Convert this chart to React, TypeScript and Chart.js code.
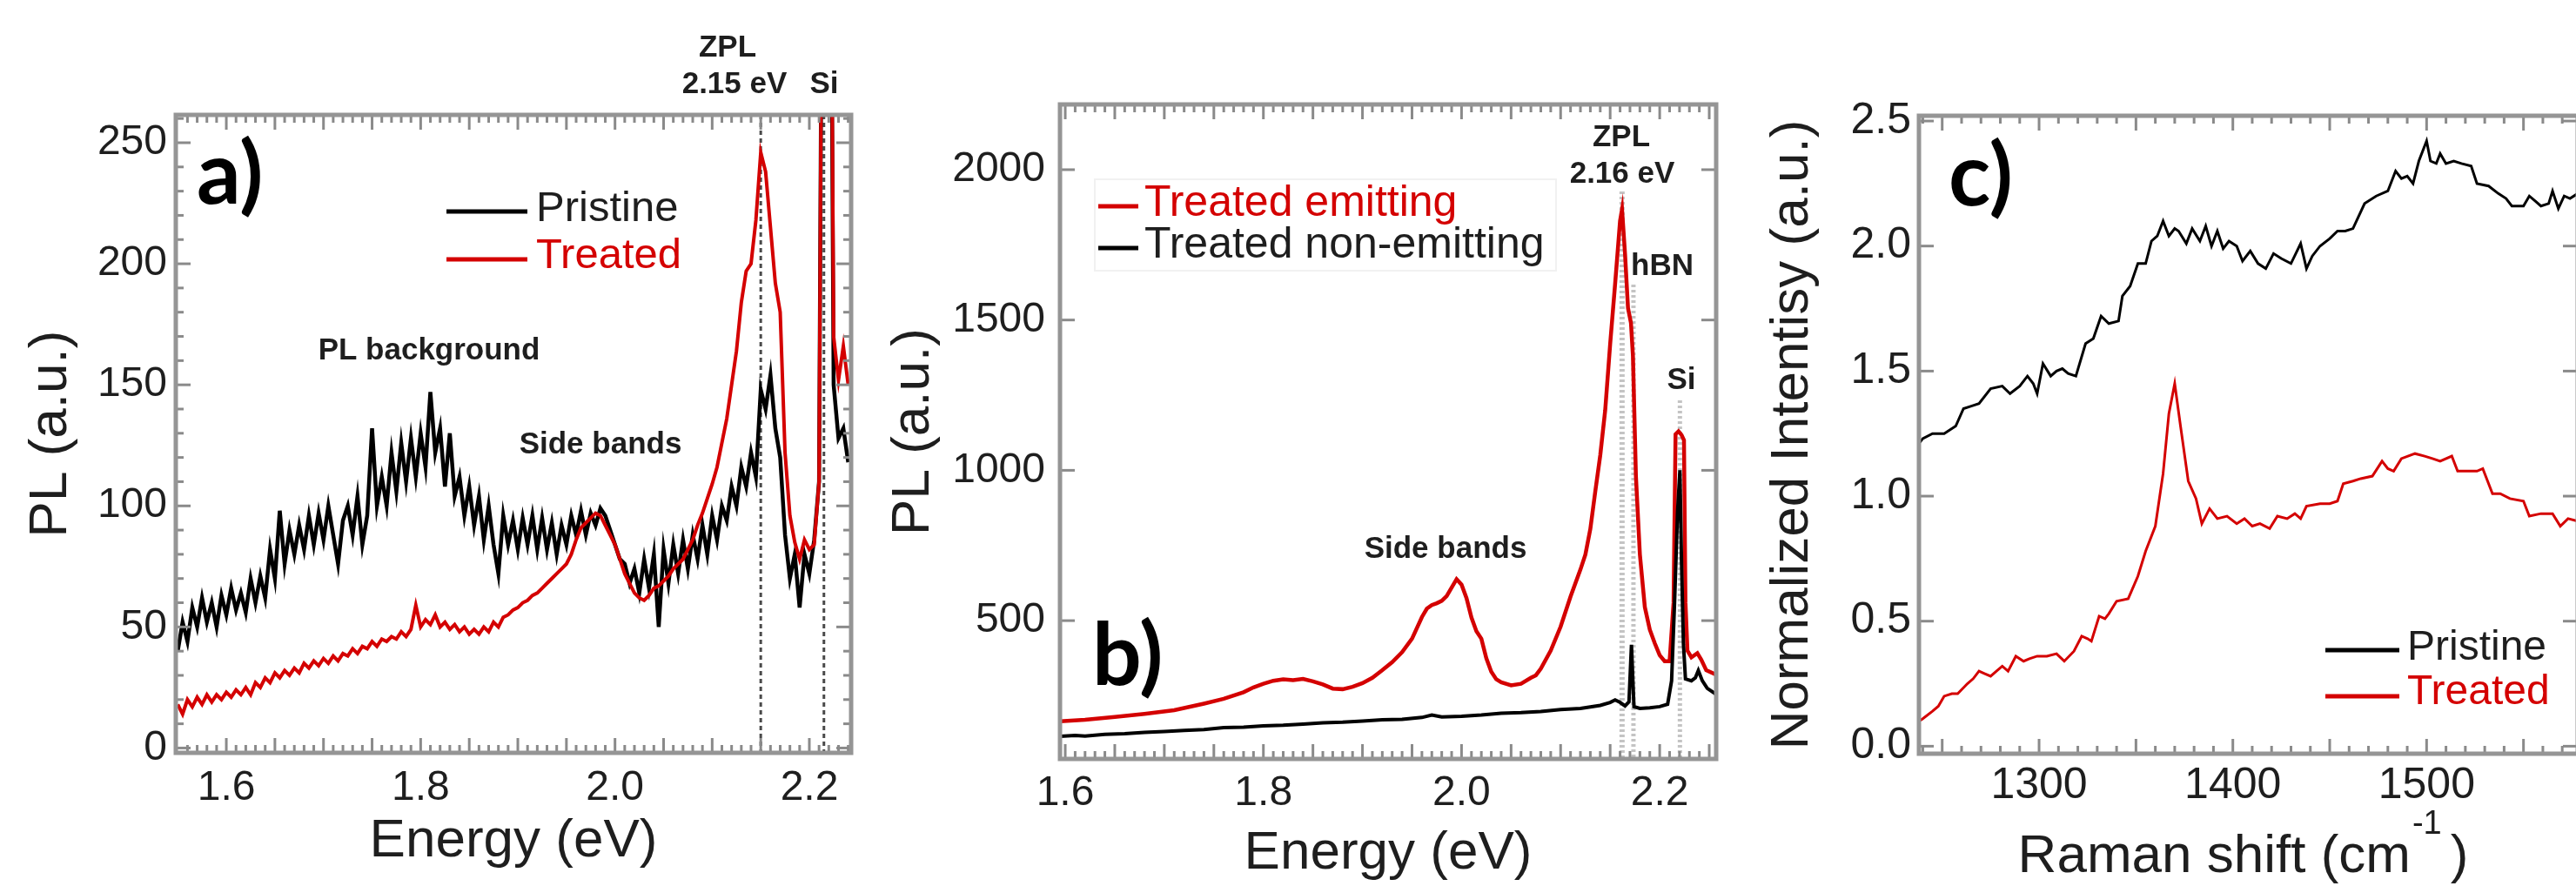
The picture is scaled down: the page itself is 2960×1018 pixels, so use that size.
import React, { useEffect, useRef } from 'react';
import { Chart, registerables } from 'chart.js';

Chart.register(...registerables);

const FONT = '"Liberation Sans", Arial, Helvetica, sans-serif';
const RED = '#d40000';
const INK = '#1e1e1e';

// ---------------- Panel a: PL, pristine vs treated ----------------
const aEnergy = [
  1.550, 1.555, 1.560, 1.565, 1.570, 1.575, 1.580, 1.585, 1.590, 1.595,
  1.600, 1.605, 1.610, 1.615, 1.620, 1.625, 1.630, 1.635, 1.640, 1.645,
  1.650, 1.655, 1.660, 1.665, 1.670, 1.675, 1.680, 1.685, 1.690, 1.695,
  1.700, 1.705, 1.710, 1.715, 1.720, 1.725, 1.730, 1.735, 1.740, 1.745,
  1.750, 1.755, 1.760, 1.765, 1.770, 1.775, 1.780, 1.785, 1.790, 1.795,
  1.800, 1.805, 1.810, 1.815, 1.820, 1.825, 1.830, 1.835, 1.840, 1.845,
  1.850, 1.855, 1.860, 1.865, 1.870, 1.875, 1.880, 1.885, 1.890, 1.895,
  1.900, 1.905, 1.910, 1.915, 1.920, 1.925, 1.930, 1.935, 1.940, 1.945,
  1.950, 1.955, 1.960, 1.965, 1.970, 1.975, 1.980, 1.985, 1.990, 1.995,
  2.000, 2.005, 2.010, 2.015, 2.020, 2.025, 2.030, 2.035, 2.040, 2.045,
  2.050, 2.055, 2.060, 2.065, 2.070, 2.075, 2.080, 2.085, 2.090, 2.095,
  2.100, 2.105, 2.110, 2.115, 2.120, 2.125, 2.130, 2.135, 2.140, 2.145,
  2.150, 2.155, 2.160, 2.165, 2.170, 2.175, 2.180, 2.185, 2.190, 2.195,
  2.200, 2.205, 2.210, 2.215, 2.220, 2.225, 2.230, 2.235, 2.240,
];
const aPristine = [
  40, 52, 44, 58, 50, 62, 52, 60, 50, 63,
  55, 66, 57, 64, 56, 70, 60, 71, 62, 82,
  70, 98, 76, 90, 80, 92, 82, 96, 84, 97,
  86, 100, 88, 76, 94, 100, 88, 104, 84, 96,
  132, 100, 112, 100, 122, 106, 126, 110, 128, 112,
  130, 116, 147, 122, 132, 108, 130, 104, 112, 96,
  108, 92, 104, 86, 100, 84, 72, 96, 84, 94,
  82, 95, 84, 96, 82, 95, 82, 93, 80, 92,
  84, 96, 88, 98, 88, 97, 92, 99, 96, 90,
  84, 78, 76, 68, 74, 64, 78, 66, 80, 50,
  82, 68, 84, 72, 86, 74, 88, 78, 92, 80,
  96, 86, 100, 94, 108, 100, 116, 108, 122, 112,
  148, 140, 154, 132, 120, 88, 70, 80, 58, 80,
  72, 86, 110, 500, 500, 150, 128, 132, 118,
];
const aTreated = [
  18, 14, 20, 17, 21, 18, 22, 19, 22, 20,
  23, 21, 24, 22, 25, 22, 27, 25, 29, 27,
  31, 29, 32, 30, 33, 31, 35, 33, 36, 34,
  37, 35, 38, 36, 39, 38, 41, 39, 42, 41,
  44, 42, 45, 44, 46, 45, 48, 46, 49, 59,
  50, 53, 51, 55, 50, 52, 49, 51, 48, 50,
  47, 49, 47, 50, 48, 52, 50, 54, 55, 57,
  58, 60, 61, 63, 64, 66, 68, 70, 72, 74,
  76, 80, 86, 91, 93, 95, 97, 96, 92, 88,
  84, 78, 72, 68, 64, 62, 61, 63, 66, 67,
  69, 71, 74, 76, 78, 82, 86, 92, 97, 103,
  109, 116, 126, 136, 150, 164, 184, 197, 200, 218,
  246, 238, 215, 192, 180, 122, 96, 85, 78, 86,
  82, 84, 110, 500, 500, 170, 152, 166, 150,
];
const aXTicks = [1.6, 1.8, 2.0, 2.2];
const aYTicks = [0, 50, 100, 150, 200, 250];

// ---------------- Panel b: treated emitting vs non-emitting ----------------
const bEmitEnergy = [
  1.595, 1.62, 1.65, 1.68, 1.71, 1.74, 1.76, 1.78, 1.79, 1.80,
  1.81, 1.82, 1.83, 1.84, 1.85, 1.86, 1.87, 1.88, 1.89, 1.90,
  1.91, 1.92, 1.93, 1.94, 1.95, 1.96, 1.965, 1.97, 1.975, 1.98,
  1.985, 1.99, 1.995, 2.00, 2.005, 2.01, 2.015, 2.02, 2.025, 2.03,
  2.035, 2.04, 2.05, 2.06, 2.07, 2.075, 2.08, 2.09, 2.10, 2.11,
  2.12, 2.125, 2.13, 2.135, 2.14, 2.145, 2.15, 2.155, 2.16, 2.162,
  2.165, 2.168, 2.171, 2.173, 2.176, 2.18, 2.185, 2.19, 2.195, 2.20,
  2.205, 2.21, 2.214, 2.216, 2.219, 2.222, 2.2245, 2.226, 2.228, 2.232,
  2.238, 2.242, 2.247, 2.257,
];
const bEmitPL = [
  165, 170, 180, 190, 202, 224, 240, 262, 278, 290,
  300, 305, 302, 306, 298, 288, 274, 272, 280, 292,
  310, 335, 362, 395, 440, 512, 540, 552, 558, 566,
  582, 610, 638, 620, 575, 510, 465, 440, 375, 330,
  305, 295, 285, 290, 310, 318, 340, 400, 480, 580,
  670, 720, 805, 930, 1050, 1200, 1420, 1620, 1830, 1868,
  1720, 1540, 1490, 1380, 980, 720, 545, 470, 425, 385,
  365, 365, 560, 1120, 1130, 1118, 1100, 560, 400, 378,
  392, 370, 335, 320,
];
const bNonEnergy = [
  1.595, 1.61, 1.62, 1.64, 1.66, 1.68, 1.70, 1.72, 1.74, 1.76,
  1.78, 1.80, 1.82, 1.84, 1.86, 1.88, 1.90, 1.92, 1.94, 1.96,
  1.97, 1.98, 2.00, 2.02, 2.04, 2.06, 2.08, 2.10, 2.12, 2.14,
  2.15, 2.155, 2.16, 2.165, 2.169, 2.1715, 2.174, 2.18, 2.19, 2.20,
  2.208, 2.212, 2.215, 2.218, 2.2204, 2.222, 2.224, 2.226, 2.232, 2.236,
  2.239, 2.243, 2.248, 2.257,
];
const bNonPL = [
  115, 118, 116, 122, 124, 128, 131, 135, 138, 144,
  146, 150, 152, 156, 160, 162, 166, 170, 172, 178,
  186, 180, 182, 186, 192, 194, 198, 204, 208, 218,
  228, 236, 228, 216, 230, 420, 214, 208, 210, 214,
  222, 300, 560, 860, 1000, 700, 420, 306, 300, 310,
  334, 300, 275, 255,
];
const bXTicks = [1.6, 1.8, 2.0, 2.2];
const bYTicks = [500, 1000, 1500, 2000];

// ---------------- Panel c: Raman ----------------
const cPristineShift = [
  1238, 1240, 1245, 1251, 1257, 1261, 1265, 1269, 1275, 1281,
  1285, 1290, 1294, 1297, 1299, 1302, 1306, 1309, 1312, 1315,
  1319, 1324, 1328, 1332, 1336, 1341, 1343, 1347, 1351, 1355,
  1358, 1361, 1364, 1367, 1370, 1372, 1376, 1379, 1383, 1386,
  1389, 1392, 1395, 1398, 1402, 1405, 1409, 1413, 1417, 1421,
  1425, 1430, 1435, 1438, 1441, 1445, 1450, 1454, 1458, 1462,
  1468, 1474, 1480, 1484, 1487, 1490, 1493, 1496, 1500, 1502,
  1505, 1507, 1510, 1514, 1518, 1523, 1526, 1532, 1537, 1541,
  1544, 1550, 1553, 1556, 1559, 1563, 1565, 1568, 1571, 1574,
  1578,
];
const cPristine = [
  1.21, 1.23, 1.25, 1.25, 1.28, 1.35, 1.36, 1.37, 1.43, 1.44,
  1.41, 1.44, 1.48, 1.45, 1.41, 1.53, 1.48, 1.50, 1.51, 1.49,
  1.48, 1.61, 1.63, 1.72, 1.69, 1.70, 1.80, 1.84, 1.93, 1.93,
  2.02, 2.04, 2.10, 2.04, 2.07, 2.06, 2.01, 2.07, 2.02, 2.08,
  2.00, 2.06, 1.99, 2.02, 2.00, 1.94, 1.98, 1.93, 1.91, 1.97,
  1.95, 1.93, 2.01, 1.91, 1.96, 2.00, 2.03, 2.06, 2.06, 2.07,
  2.17, 2.20, 2.22, 2.30, 2.27, 2.28, 2.25, 2.34, 2.42, 2.34,
  2.33, 2.37, 2.33, 2.34, 2.33, 2.32, 2.25, 2.24, 2.21, 2.19,
  2.16, 2.16, 2.20, 2.18, 2.16, 2.17, 2.22, 2.15, 2.20, 2.19,
  2.21,
];
const cTreatedShift = [
  1238, 1240, 1245, 1248, 1251, 1255, 1258, 1263, 1266, 1269,
  1272, 1275, 1278, 1281, 1284, 1288, 1292, 1295, 1299, 1304,
  1309, 1313, 1318, 1322, 1325, 1327, 1331, 1334, 1336, 1340,
  1346, 1351, 1355, 1360, 1364, 1367, 1370, 1373, 1377, 1381,
  1384, 1388, 1392, 1397, 1402, 1406, 1410, 1414, 1419, 1423,
  1428, 1432, 1435, 1438, 1445, 1450, 1454, 1457, 1462, 1466,
  1472, 1477, 1480, 1483, 1487, 1494, 1499, 1503, 1507, 1513,
  1516, 1521, 1526, 1529, 1534, 1538, 1543, 1550, 1553, 1559,
  1565, 1569, 1573, 1578,
];
const cTreated = [
  0.10, 0.11, 0.14, 0.16, 0.20, 0.21, 0.21, 0.25, 0.27, 0.30,
  0.29, 0.28, 0.30, 0.32, 0.30, 0.36, 0.34, 0.35, 0.36, 0.36,
  0.37, 0.34, 0.38, 0.44, 0.43, 0.42, 0.52, 0.51, 0.53, 0.58,
  0.59, 0.68, 0.78, 0.88, 1.09, 1.33, 1.45, 1.28, 1.06, 0.99,
  0.89, 0.95, 0.91, 0.92, 0.89, 0.91, 0.88, 0.89, 0.87, 0.92,
  0.91, 0.93, 0.91, 0.96, 0.97, 0.97, 0.98, 1.05, 1.06, 1.07,
  1.08, 1.14, 1.11, 1.10, 1.15, 1.17, 1.16, 1.15, 1.14, 1.16,
  1.10, 1.10, 1.10, 1.11, 1.01, 1.01, 0.99, 0.98, 0.92, 0.93,
  0.93, 0.88, 0.91, 0.90,
];
const cXTicks = [1300, 1400, 1500];
const cYTicks = [0, 0.5, 1.0, 1.5, 2.0, 2.5];

// ---------------- helpers ----------------
function pts(xs: number[], ys: number[]) {
  return xs.map((x, i) => ({ x, y: ys[i] }));
}

function xScale(o: any) {
  return {
    type: 'linear',
    position: 'bottom',
    min: o.min,
    max: o.max,
    grid: { display: false, drawTicks: false },
    border: { display: false },
    afterBuildTicks: (s: any) => { s.ticks = o.ticks.map((v: number) => ({ value: v })); },
    afterFit: (s: any) => { s.height = o.height; },
    ticks: {
      autoSkip: false, maxRotation: 0, minRotation: 0, padding: o.pad, color: INK,
      font: { size: o.size, family: FONT },
      callback: (v: any) => Number(v).toFixed(o.fmt),
    },
    title: o.title
      ? { display: true, text: o.title, color: INK, font: { size: 62, family: FONT }, padding: { top: 0, bottom: o.titlePad } }
      : { display: false },
  };
}

function yScale(o: any) {
  return {
    type: 'linear',
    position: 'left',
    min: o.min,
    max: o.max,
    grid: { display: false, drawTicks: false },
    border: { display: false },
    afterBuildTicks: (s: any) => { s.ticks = o.ticks.map((v: number) => ({ value: v })); },
    afterFit: (s: any) => { s.width = o.width; },
    ticks: {
      autoSkip: false, padding: o.pad, color: INK,
      font: { size: o.size, family: FONT },
      callback: (v: any) => Number(v).toFixed(o.fmt),
    },
    title: { display: true, text: o.title, color: INK, font: { size: 62, family: FONT }, padding: { top: o.titlePad, bottom: 0 } },
  };
}

function makeDeco(d: any) {
  return {
    id: 'deco',
    beforeDatasetsDraw(chart: any) {
      const { ctx, chartArea: ca } = chart;
      const xs = chart.scales.x;
      ctx.save();
      for (const v of d.vlines || []) {
        const px = xs.getPixelForValue(v.x);
        ctx.beginPath();
        ctx.setLineDash(v.dash);
        ctx.lineWidth = v.width;
        ctx.strokeStyle = v.color;
        ctx.moveTo(px, v.from != null ? v.from : ca.top);
        ctx.lineTo(px, ca.bottom);
        ctx.stroke();
      }
      ctx.restore();
    },
    afterDatasetsDraw(chart: any) {
      const { ctx, chartArea: ca } = chart;
      const xs = chart.scales.x;
      const ys = chart.scales.y;
      ctx.save();
      ctx.setLineDash([]);
      const seg = (x1: number, y1: number, x2: number, y2: number) => {
        ctx.beginPath(); ctx.moveTo(x1, y1); ctx.lineTo(x2, y2); ctx.stroke();
      };
      ctx.strokeStyle = d.tickColor;
      ctx.lineWidth = d.tickWidth;
      const run = (scale: any, step: number, major: number, horiz: boolean) => {
        if (!step) return;
        const n0 = Math.ceil(scale.min / step - 1e-6);
        const n1 = Math.floor(scale.max / step + 1e-6);
        for (let n = n0; n <= n1; n++) {
          const v = n * step;
          const r = v / major;
          const isMajor = Math.abs(r - Math.round(r)) < 1e-6;
          const len = isMajor ? d.majorLen : d.minorLen;
          const p = scale.getPixelForValue(v);
          if (horiz) {
            if (p <= ca.left + 3 || p >= ca.right - 3) continue;
            seg(p, ca.bottom, p, ca.bottom - len);
            seg(p, ca.top, p, ca.top + len);
          } else {
            if (p <= ca.top + 3 || p >= ca.bottom - 3) continue;
            seg(ca.left, p, ca.left + len, p);
            seg(ca.right, p, ca.right - len, p);
          }
        }
      };
      run(xs, d.xStep, d.xMajor, true);
      run(ys, d.yStep, d.yMajor, false);

      ctx.strokeStyle = d.frameColor;
      ctx.lineWidth = d.frameWidth;
      ctx.strokeRect(ca.left, ca.top, ca.right - ca.left, ca.bottom - ca.top);

      for (const t of d.texts || []) {
        ctx.font = t.font;
        ctx.fillStyle = t.color || INK;
        ctx.textAlign = t.align || 'center';
        ctx.textBaseline = t.baseline || 'middle';
        ctx.fillText(t.text, t.x, t.y);
      }

      if (d.legend) {
        const L = d.legend;
        if (L.box) {
          ctx.strokeStyle = L.box.color;
          ctx.lineWidth = 2;
          ctx.strokeRect(L.box.x, L.box.y, L.box.w, L.box.h);
        }
        for (const it of L.items) {
          const ds = chart.data.datasets[it.ds];
          ctx.strokeStyle = ds.borderColor;
          ctx.lineWidth = L.lineWidth;
          seg(L.x0, it.y, L.x1, it.y);
          ctx.font = L.font;
          ctx.fillStyle = it.textColor;
          ctx.textAlign = 'left';
          ctx.textBaseline = 'middle';
          ctx.fillText(ds.label, L.tx, it.ty);
        }
      }

      if (d.xTitle) {
        const t = d.xTitle;
        const cx = (ca.left + ca.right) / 2 + t.shift;
        ctx.fillStyle = INK;
        ctx.textAlign = 'left';
        ctx.textBaseline = 'alphabetic';
        ctx.font = `${t.size}px ${FONT}`;
        const w1 = ctx.measureText(t.main).width;
        const w3 = ctx.measureText(t.close).width;
        ctx.font = `${t.supSize}px ${FONT}`;
        const w2 = ctx.measureText(t.sup).width;
        const total = w1 + t.gap1 + w2 + t.gap2 + w3;
        let x = cx - total / 2;
        ctx.font = `${t.size}px ${FONT}`;
        ctx.fillText(t.main, x, t.y);
        x += w1 + t.gap1;
        ctx.font = `${t.supSize}px ${FONT}`;
        ctx.fillText(t.sup, x, t.supY);
        x += w2 + t.gap2;
        ctx.font = `${t.size}px ${FONT}`;
        ctx.fillText(t.close, x, t.y);
      }
      ctx.restore();
    },
  };
}

const common = {
  animation: false,
  responsive: false,
  maintainAspectRatio: false,
  devicePixelRatio: 1,
  events: [],
  plugins: { legend: { display: false }, tooltip: { enabled: false } },
  elements: { point: { radius: 0 }, line: { tension: 0 } },
};

const ANNOT = `bold 35px ${FONT}`;
const LETTER = `bold 100px Lato, "Open Sans", ${FONT}`;
const FRAME = { frameColor: '#959595', frameWidth: 5, tickColor: '#8a8a8a', tickWidth: 3, minorLen: 9, majorLen: 17 };

function configA() {
  return {
    type: 'line',
    data: {
      datasets: [
        { label: 'Pristine', data: pts(aEnergy, aPristine), borderColor: '#000000', borderWidth: 4.5, pointRadius: 0, order: 1 },
        { label: 'Treated', data: pts(aEnergy, aTreated), borderColor: RED, borderWidth: 4, pointRadius: 0, order: 0 },
      ],
    },
    options: {
      ...common,
      layout: { padding: { left: 0, top: 132, right: 12, bottom: 0 } },
      scales: {
        x: xScale({ min: 1.548, max: 2.243, ticks: aXTicks, fmt: 1, size: 48, pad: 12, height: 153, title: 'Energy (eV)', titlePad: 14 }),
        y: yScale({ min: -2, max: 261.5, ticks: aYTicks, fmt: 0, size: 48, pad: 10, width: 202, title: 'PL (a.u.)', titlePad: 22 }),
      },
    },
    plugins: [makeDeco({
      ...FRAME,
      xStep: 0.01, xMajor: 0.05, yStep: 10, yMajor: 50,
      vlines: [
        { x: 2.15, color: '#4a4a4a', width: 3, dash: [5, 4] },
        { x: 2.215, color: '#4a4a4a', width: 3, dash: [5, 4] },
      ],
      texts: [
        { text: 'ZPL', x: 836, y: 55, font: ANNOT },
        { text: '2.15 eV', x: 844, y: 97, font: ANNOT },
        { text: 'Si', x: 947, y: 97, font: ANNOT },
        { text: 'PL background', x: 493, y: 403, font: ANNOT },
        { text: 'Side bands', x: 690, y: 511, font: ANNOT },
        { text: 'a)', x: 226, y: 234, font: LETTER, align: 'left', baseline: 'alphabetic', color: '#000' },
      ],
      legend: {
        x0: 513, x1: 606, tx: 616, lineWidth: 5, font: `49px ${FONT}`,
        items: [
          { ds: 0, y: 243, ty: 240, textColor: INK },
          { ds: 1, y: 298, ty: 294, textColor: RED },
        ],
      },
    })],
  };
}

function configB() {
  return {
    type: 'line',
    data: {
      datasets: [
        { label: 'Treated emitting', data: pts(bEmitEnergy, bEmitPL), borderColor: RED, borderWidth: 4.5, pointRadius: 0, order: 1 },
        { label: 'Treated non-emitting', data: pts(bNonEnergy, bNonPL), borderColor: '#000000', borderWidth: 4, pointRadius: 0, order: 0 },
      ],
    },
    options: {
      ...common,
      layout: { padding: { left: 0, top: 120, right: 23, bottom: 0 } },
      scales: {
        x: xScale({ min: 1.5947, max: 2.257, ticks: bXTicks, fmt: 1, size: 48, pad: 11, height: 146, title: 'Energy (eV)', titlePad: 0 }),
        y: yScale({ min: 40, max: 2217, ticks: bYTicks, fmt: 0, size: 48, pad: 17, width: 228, title: 'PL (a.u.)', titlePad: 23 }),
      },
    },
    plugins: [makeDeco({
      ...FRAME,
      xStep: 0.01, xMajor: 0.05, yStep: 500, yMajor: 500,
      vlines: [
        { x: 2.162, from: 220, color: '#c4c4c4', width: 6, dash: [3, 3] },
        { x: 2.1735, from: 327, color: '#c4c4c4', width: 5, dash: [3, 3] },
        { x: 2.2204, from: 460, color: '#c4c4c4', width: 5, dash: [3, 3] },
      ],
      texts: [
        { text: 'ZPL', x: 873, y: 158, font: ANNOT },
        { text: '2.16 eV', x: 874, y: 200, font: ANNOT },
        { text: 'hBN', x: 920, y: 306, font: ANNOT },
        { text: 'Si', x: 942, y: 437, font: ANNOT },
        { text: 'Side bands', x: 671, y: 631, font: ANNOT },
        { text: 'b)', x: 265, y: 787, font: LETTER, align: 'left', baseline: 'alphabetic', color: '#000' },
      ],
      legend: {
        x0: 272, x1: 318, tx: 325, lineWidth: 5, font: `50px ${FONT}`,
        box: { x: 268, y: 206, w: 530, h: 105, color: '#f1f1f1' },
        items: [
          { ds: 0, y: 237, ty: 234, textColor: RED },
          { ds: 1, y: 285, ty: 282, textColor: INK },
        ],
      },
    })],
  };
}

function configC() {
  return {
    type: 'line',
    data: {
      datasets: [
        { label: 'Pristine', data: pts(cPristineShift, cPristine), borderColor: '#000000', borderWidth: 3, pointRadius: 0 },
        { label: 'Treated', data: pts(cTreatedShift, cTreated), borderColor: RED, borderWidth: 3, pointRadius: 0 },
      ],
    },
    options: {
      ...common,
      layout: { padding: { left: 0, top: 133, right: 13, bottom: 0 } },
      scales: {
        x: xScale({ min: 1238, max: 1578, ticks: cXTicks, fmt: 0, size: 50, pad: 7, height: 152, title: null }),
        y: yScale({ min: -0.03, max: 2.521, ticks: cYTicks, fmt: 1, size: 50, pad: 9, width: 210, title: 'Normalized Intentisy (a.u.)', titlePad: 28 }),
      },
    },
    plugins: [makeDeco({
      ...FRAME,
      xStep: 10, xMajor: 50, yStep: 0.5, yMajor: 0.5,
      texts: [
        { text: 'c)', x: 244, y: 236, font: LETTER, align: 'left', baseline: 'alphabetic', color: '#000' },
      ],
      legend: {
        x0: 677, x1: 762, tx: 771, lineWidth: 5, font: `48px ${FONT}`,
        items: [
          { ds: 0, y: 747, ty: 745, textColor: INK },
          { ds: 1, y: 800, ty: 796, textColor: RED },
        ],
      },
      xTitle: { main: 'Raman shift (cm', sup: '-1', close: ')', size: 62, supSize: 38, y: 1002, supY: 958, gap1: 2, gap2: 10, shift: -6 },
    })],
  };
}

function Panel({ left, width, make }: { left: number; width: number; make: () => any }) {
  const ref = useRef<HTMLCanvasElement | null>(null);
  useEffect(() => {
    if (!ref.current) return;
    const chart = new Chart(ref.current, make());
    return () => chart.destroy();
  }, []);
  return (
    <div style={{ position: 'absolute', left, top: 0, width, height: 1018 }}>
      <canvas ref={ref} width={width} height={1018} style={{ display: 'block', width, height: 1018 }} />
    </div>
  );
}

export default function App() {
  return (
    <div style={{ position: 'absolute', left: 0, top: 0, width: 2960, height: 1018, overflow: 'hidden', background: '#ffffff' }}>
      <Panel left={0} width={990} make={configA} />
      <Panel left={990} width={1005} make={configB} />
      <Panel left={1995} width={980} make={configC} />
    </div>
  );
}
